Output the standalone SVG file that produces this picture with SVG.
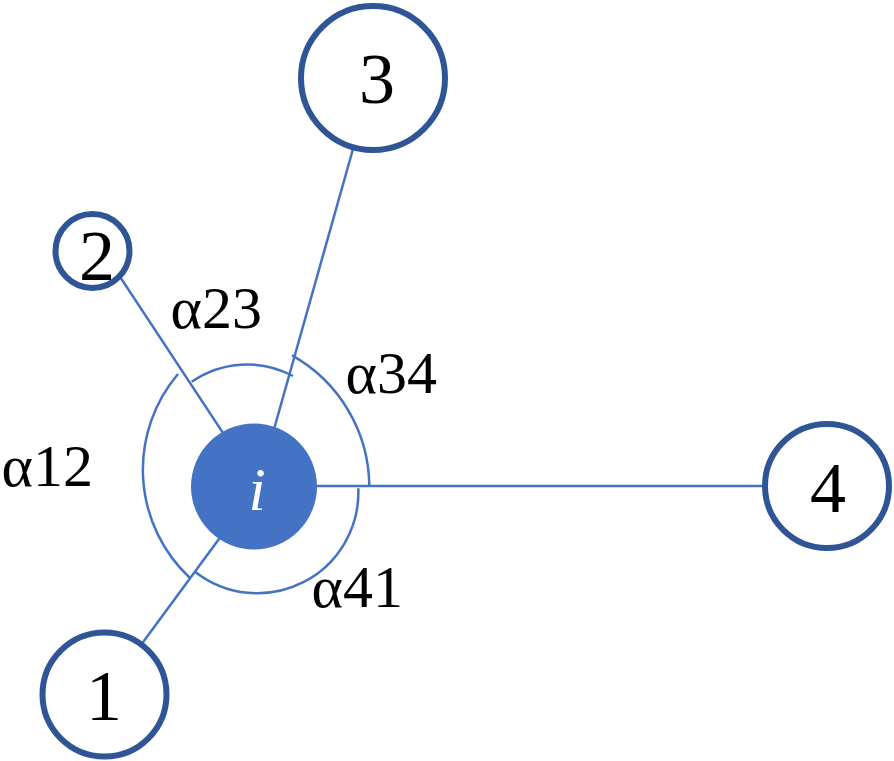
<svg xmlns="http://www.w3.org/2000/svg" width="894" height="761" viewBox="0 0 894 761">
<style>
.edge{stroke:#4472C4;stroke-width:2.5;fill:none}
.node{fill:#fff;stroke:#2F5597;stroke-width:6}
.num{font-family:"Liberation Serif","Times New Roman",serif;font-size:72px;fill:#000;text-anchor:middle}
.lab{font-family:"Liberation Serif","Times New Roman",serif;font-size:60px;fill:#000}
</style>
<rect width="894" height="761" fill="#fff"/>
<g id="connectors">
<line class="edge" x1="258" y1="486" x2="104.5" y2="694.5"/>
<line class="edge" x1="258" y1="486" x2="103" y2="251"/>
<line class="edge" x1="258" y1="486" x2="373" y2="78"/>
<line class="edge" x1="258" y1="486" x2="827" y2="486"/>
</g>
<g id="angles">
<path class="edge" d="M178,374 A148,148 0 0 0 190,578"/>
<path class="edge" d="M191.7,381.7 A97.5,97.5 0 0 1 293,376"/>
<path class="edge" d="M292,355.4 A151,151 0 0 1 369.3,486"/>
<path class="edge" d="M358.3,488.3 A101,101 0 0 1 195,571.7"/>
</g>
<g id="node-i">
<circle cx="254" cy="486.5" r="63" fill="#4472C4"/>
<text x="257" y="510" font-family="Liberation Serif,serif" font-style="italic" font-size="62" fill="#fff" text-anchor="middle">i</text>
</g>
<g id="node-1">
<circle class="node" cx="104.5" cy="694.5" r="62"/>
<text class="num" x="104" y="720">1</text>
</g>
<g id="node-2">
<circle class="node" cx="92.5" cy="251" r="37"/>
<text class="num" x="97" y="280">2</text>
</g>
<g id="node-3">
<circle class="node" cx="373" cy="78" r="72"/>
<text class="num" x="377" y="103">3</text>
</g>
<g id="node-4">
<circle class="node" cx="827" cy="486" r="62"/>
<text class="num" x="828" y="512">4</text>
</g>
<g id="labels">
<text class="lab" x="93" y="486" text-anchor="end">α12</text>
<text class="lab" x="262" y="328" text-anchor="end">α23</text>
<text class="lab" x="437" y="393" text-anchor="end">α34</text>
<text class="lab" x="403" y="607" text-anchor="end">α41</text>
</g>
</svg>
